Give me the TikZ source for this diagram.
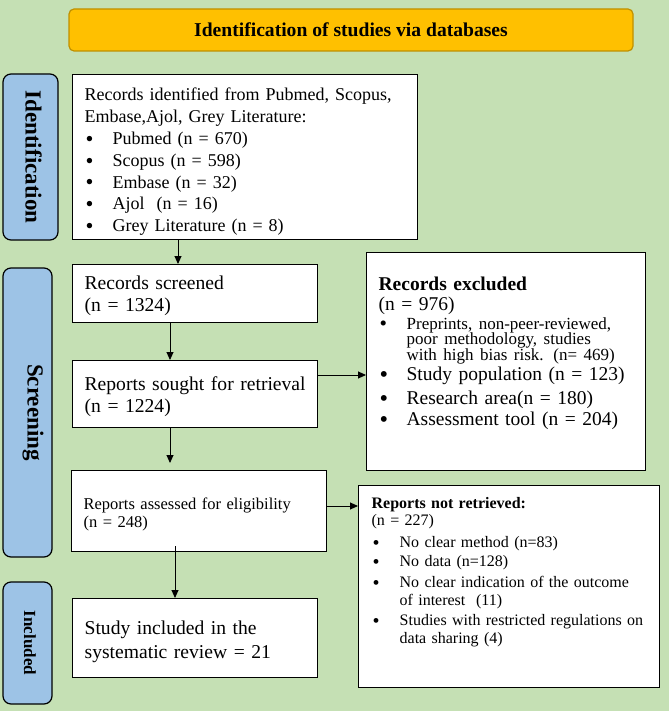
\documentclass[tikz,border=0pt]{standalone}
\usepackage{fontspec}
\setmainfont{Liberation Serif}
\usepackage{xcolor}
\usepackage{graphicx}
\usepackage{tikz}
\usetikzlibrary{arrows.meta}

\definecolor{bggreen}{HTML}{C5E0B4}
\definecolor{bannergold}{HTML}{FFC000}
\definecolor{bannerrim}{HTML}{BF9000}
\definecolor{phaseblue}{HTML}{9DC3E6}

\newcommand{\bitem}{\makebox[28pt][l]{\hspace{1pt}\raisebox{-0.1em}[0pt][0pt]{\scalebox{1.25}{\textbullet}}}}
\newcommand{\bcont}{\hspace*{28pt}}
\newcommand{\padbottom}[1]{\rule[-#1]{0pt}{#1}}
\newcommand{\padtop}[1]{\rule{0pt}{#1}}

\tikzset{
  box/.style={draw=black, line width=1.3pt, fill=white, anchor=north west,
    align=left, inner xsep=12pt, inner ysep=0pt},
  phase/.style={draw=black, line width=1.2pt, fill=phaseblue, rounded corners=8pt,
    rotate=-90, inner sep=0pt, font=\bfseries},
  arr/.style={-{Triangle[length=8pt,width=7pt]}, line width=0.9pt},
}

\begin{document}
\begin{tikzpicture}[x=1pt,y=-1pt]

% Background
\fill[bggreen] (0,0) rectangle (669,711);

% Banner
\node[draw=bannerrim, line width=1.2pt, fill=bannergold, rounded corners=5pt,
  minimum width=564pt, minimum height=42pt, font=\fontsize{19.6}{22}\selectfont\bfseries]
  (banner) at (351,30) {Identification of studies via databases};

% Phase labels
\node[phase, minimum width=166pt, minimum height=55pt, text height=10pt, text depth=0pt,
  font=\fontsize{23}{26}\selectfont\bfseries] (phid) at (30.5,157) {Identification};
\node[phase, minimum width=289pt, minimum height=49pt, text height=8pt, text depth=8pt,
  font=\fontsize{23}{26}\selectfont\bfseries] (phscr) at (27.5,412.5) {Screening};
\node[phase, minimum width=122pt, minimum height=49pt, text height=7pt, text depth=0pt,
  font=\fontsize{17}{20}\selectfont\bfseries] (phinc) at (27.5,643) {Included};

% Left column
\node[box, minimum width=345pt, minimum height=165pt, text width=321pt,
  font=\fontsize{18}{21.8}\selectfont] (ident) at (72,74) {%
  \padtop{22pt}Records identified from Pubmed, Scopus,\\
  Embase,Ajol, Grey Literature:\\
  \bitem Pubmed (n = 670)\\
  \bitem Scopus (n = 598)\\
  \bitem Embase (n = 32)\\
  \bitem Ajol\ \ (n = 16)\\
  \bitem Grey Literature (n = 8)};

\node[box, minimum width=245pt, minimum height=58pt, text width=221pt,
  font=\fontsize{19.6}{22}\selectfont] (screened) at (72,264) {%
  \padtop{18pt}Records screened\\
  (n = 1324)};

\node[box, minimum width=245pt, minimum height=67pt, text width=221pt,
  font=\fontsize{19.6}{22}\selectfont] (sought) at (72,360) {%
  \padtop{18pt}Reports sought for retrieval\\
  (n = 1224)};

\node[box, minimum width=255pt, minimum height=81pt, text width=231pt,
  font=\fontsize{16.5}{17.5}\selectfont] (assessed) at (71,470) {%
  \padtop{18pt}Reports assessed for eligibility\\
  (n = 248)};

\node[box, minimum width=245pt, minimum height=79pt, text width=221pt,
  font=\fontsize{19.6}{24}\selectfont] (included) at (72,598) {%
  \padtop{21pt}Study included in the\\
  systematic review = 21};

% Right column
\node[box, minimum width=279pt, minimum height=218pt, text width=255pt,
  font=\fontsize{19.5}{21}\selectfont] (excl) at (366,252) {%
  {\bfseries Records excluded}\\[-1pt]
  (n = 976)\\[-2pt]
  {\fontsize{17}{15.5}\selectfont\bitem Preprints, non-peer-reviewed,}\\[-5.5pt]
  {\fontsize{17}{15.5}\selectfont\bcont poor methodology, studies}\\[-5pt]
  {\fontsize{17}{15.5}\selectfont\bcont with high bias risk. (n= 469)}\\[-1pt]
  \bitem Study population (n = 123)\\[3pt]
  \bitem Research area(n = 180)\\
  \bitem Assessment tool (n = 204)\padbottom{21pt}};

\node[box, minimum width=301pt, minimum height=202pt, text width=275pt, inner xsep=13pt,
  font=\fontsize{16}{19}\selectfont] (notretr) at (358,485) {%
  {\bfseries Reports not retrieved:}\\[-2pt]
  (n = 227)\\[3pt]
  \bitem No clear method (n=83)\\
  \bitem No data (n=128)\\[2pt]
  \bitem No clear indication of the outcome\\[-1pt]
  \bcont of interest\ \ (11)\\[1pt]
  \bitem Studies with restricted regulations on\\[-1pt]
  \bcont data sharing (4)\padbottom{32pt}};

% Connectors
\coordinate (a1) at ([xshift=106pt]screened.north west);
\draw[arr] (a1 |- ident.south) -- (a1);
\draw[arr] ([xshift=98pt]screened.south west) -- ([xshift=98pt]sought.north west);
\draw[arr, shorten >=7pt] ([xshift=98pt]sought.south west) -- ([xshift=99pt]assessed.north west);
\draw[arr] ([xshift=104pt,yshift=6pt]assessed.south west) -- ([xshift=103pt]included.north west);

\coordinate (s5) at ([yshift=-15pt]sought.north east);
\draw[arr] (s5) -- (s5 -| excl.west);
\coordinate (s6) at ([yshift=-36pt]assessed.north east);
\draw[arr] (s6) -- (s6 -| notretr.west);

\end{tikzpicture}
\end{document}
